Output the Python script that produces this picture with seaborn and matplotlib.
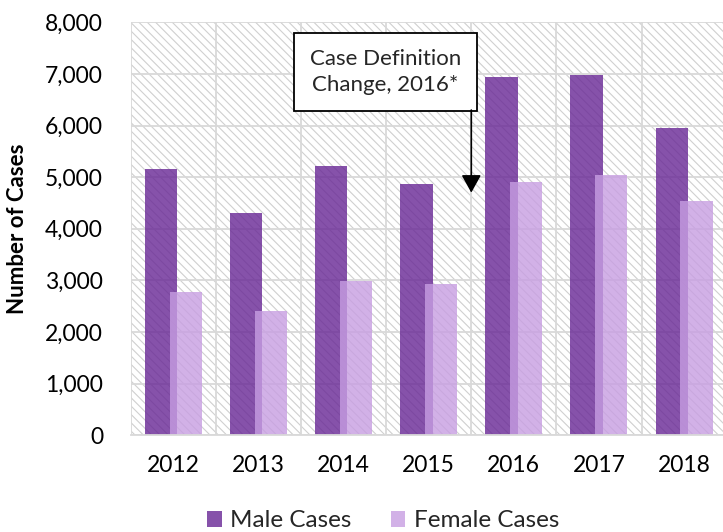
import numpy as np
import pandas as pd
import seaborn as sns
import matplotlib.pyplot as plt
from matplotlib.ticker import FuncFormatter, MultipleLocator, FixedLocator


years = ['2012', '2013', '2014', '2015', '2016', '2017', '2018']
male_cases = [5160, 4300, 5210, 4870, 6940, 6980, 5960]
female_cases = [2780, 2400, 2990, 2930, 4900, 5040, 4540]
series = ['Male Cases', 'Female Cases']

df = pd.DataFrame({
    'year': years * 2,
    'cases': male_cases + female_cases,
    'sex': [series[0]] * len(years) + [series[1]] * len(years),
})

sns.set_theme(style='white')
plt.rcParams['font.family'] = ['Lato', 'DejaVu Sans']
plt.rcParams['hatch.linewidth'] = 0.8

fig = plt.figure(figsize=(7.23, 5.32), dpi=100)
ax = fig.add_axes([0.181, 0.182, 0.824, 0.776])

# hatched plot area like the excel original
ax.patch.set_facecolor('white')
ax.patch.set_edgecolor('#d0d0d0')
ax.patch.set_hatch('\\' * 4)
ax.patch.set_linewidth(0)

sns.barplot(df, x='year', y='cases', hue='sex', hue_order=series,
            palette=['#682795', '#c79ee2'], alpha=0.8, saturation=1,
            width=0.58, linewidth=0, ax=ax)

# bars overlap a little, widen them around their centres
for cont in ax.containers:
    for bar in cont:
        cx = bar.get_x() + bar.get_width() / 2
        bar.set_width(0.38)
        bar.set_x(cx - 0.19)

ax.set_xlim(-0.5, 6.5)
ax.set_ylim(0, 8000)
ax.yaxis.set_major_locator(MultipleLocator(1000))
ax.yaxis.set_major_formatter(FuncFormatter(lambda v, p: f'{v:,.0f}'))
ax.xaxis.set_minor_locator(FixedLocator(np.arange(-0.5, 7, 1)))

ax.set_axisbelow(True)
ax.grid(axis='y', which='major', color='#d9d9d9', lw=1.3)
ax.grid(axis='x', which='minor', color='#d9d9d9', lw=1.3)
ax.grid(axis='x', which='major', visible=False)

for side in ['top', 'right', 'left']:
    ax.spines[side].set_visible(False)
ax.spines['bottom'].set_color('#d9d9d9')
ax.spines['bottom'].set_linewidth(1.3)

ax.tick_params(axis='both', which='both', length=0)
ax.tick_params(axis='y', pad=20, labelsize=16.5, labelcolor='black')
ax.tick_params(axis='x', pad=14, labelsize=16.5, labelcolor='black')

ax.set_xlabel('')
ax.set_ylabel('Number of Cases', fontweight='bold', fontsize=16, color='black')
ax.yaxis.set_label_coords(-0.172, 0.5)

ax.text(2.49, 7035, 'Case Definition\nChange, 2016*', ha='center', va='center',
        fontsize=16, linespacing=1.4,
        bbox=dict(boxstyle='square,pad=0.7', fc='white', ec='black', lw=1.3))
ax.annotate('', xy=(3.5, 4700), xytext=(3.5, 6300),
            arrowprops=dict(arrowstyle='-|>,head_width=0.3,head_length=0.54',
                            mutation_scale=20, color='black', lw=1.2,
                            shrinkA=0, shrinkB=0))

handles, labels = ax.get_legend_handles_labels()
ax.legend_.remove()
fig.legend(handles, labels, loc='lower center', bbox_to_anchor=(0.53, -0.04),
           ncol=2, frameon=False, fontsize=17.5, handlelength=0.6, handleheight=0.6,
           handletextpad=0.35, columnspacing=1.6)

fig.savefig('out.png', dpi=100)
